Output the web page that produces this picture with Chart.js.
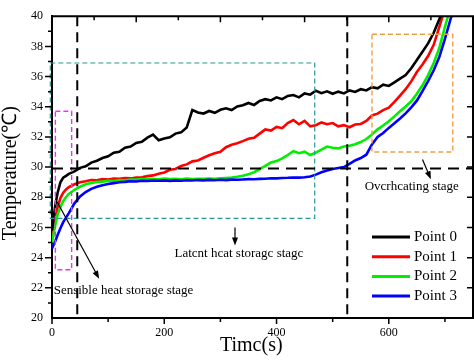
<!DOCTYPE html>
<html>
<head>
<meta charset="utf-8">
<script src="https://cdn.jsdelivr.net/npm/chart.js@4"></script>
<style>
  html, body { margin: 0; padding: 0; background: #fff; }
  #wrap { width: 474px; height: 363px; }
</style>
</head>
<body>
<div id="wrap"><canvas id="myChart" width="474" height="363"></canvas></div>
<script>
const times = [0, 3, 6, 10, 15, 20, 25, 30,
    40, 50, 60, 70, 80, 90, 100, 110, 120, 130, 140, 150, 160, 170, 180, 190,
    200, 210, 220, 230, 240, 250, 260, 270, 280, 290, 300, 310, 320, 330, 340, 350,
    360, 370, 380, 390, 400, 410, 420, 430, 440, 450, 460, 470, 480, 490, 500, 510,
    520, 530, 540, 550, 560, 570, 580, 590, 600, 610, 620, 630, 640, 650, 660, 670,
    680, 690, 700, 710, 720];

const point0 = [25.8, 26.7, 27.5, 28.3, 29.0, 29.3, 29.42, 29.55,
    29.72, 29.95, 30.05, 30.3, 30.42, 30.6, 30.72, 30.95, 31.02, 31.28, 31.36, 31.6, 31.68, 31.95, 32.15, 31.78,
    31.9, 31.98, 32.22, 32.3, 32.62, 33.78, 33.62, 33.55, 33.72, 33.6, 33.8, 33.9, 33.78, 34.02, 34.1, 34.25,
    34.12, 34.38, 34.5, 34.42, 34.62, 34.5, 34.72, 34.78, 34.62, 34.88, 34.8, 35.06, 34.9, 35.02, 34.86, 35.0,
    34.88, 35.08, 34.98, 35.16, 35.08, 35.3, 35.22, 35.46, 35.38, 35.62, 35.86, 36.1, 36.55, 37.1, 37.65, 38.2,
    38.9, 39.8, 40.8, 41.6, 42.4];

const point1 = [25.2, 25.95, 26.65, 27.35, 27.95, 28.3, 28.52, 28.68,
    28.86, 29.0, 29.06, 29.14, 29.12, 29.2, 29.18, 29.24, 29.22, 29.27, 29.25, 29.3, 29.33, 29.4, 29.45, 29.56,
    29.64, 29.82, 29.88, 30.08, 30.18, 30.38, 30.44, 30.62, 30.78, 30.92, 31.02, 31.32, 31.48, 31.58, 31.72, 31.88,
    31.94, 32.22, 32.5, 32.42, 32.66, 32.58, 32.92, 33.12, 32.84, 33.06, 32.7, 32.78, 32.96, 32.84, 32.92, 32.7,
    32.78, 32.64, 32.82, 32.86, 33.06, 33.42, 33.54, 33.78, 33.94, 34.32, 34.74, 35.16, 35.68, 36.3, 36.8, 37.36,
    38.1, 39.3, 40.5, 41.4, 42.2];

const point2 = [25.0, 25.6, 26.2, 26.85, 27.35, 27.75, 28.02, 28.22,
    28.5, 28.7, 28.86, 28.94, 29.02, 29.04, 29.1, 29.08, 29.14, 29.13, 29.18, 29.17, 29.21, 29.2, 29.23, 29.2,
    29.24, 29.21, 29.23, 29.2, 29.24, 29.21, 29.23, 29.22, 29.24, 29.22, 29.25, 29.28, 29.31, 29.36, 29.43, 29.52,
    29.66, 29.86, 30.08, 30.3, 30.4, 30.58, 30.8, 31.06, 30.92, 31.02, 30.8, 30.96, 31.16, 31.36, 31.28, 31.24,
    31.36, 31.42, 31.52, 31.66, 31.86, 32.16, 32.5, 32.76, 33.04, 33.36, 33.7, 34.02, 34.36, 34.86, 35.42, 36.1,
    36.9, 37.9, 39.3, 40.6, 42.0];

const point3 = [24.6, 24.85, 25.1, 25.5, 25.95, 26.35, 26.65, 26.95,
    27.6, 28.05, 28.35, 28.56, 28.7, 28.8, 28.88, 28.94, 29.0, 29.02, 29.06, 29.05, 29.09, 29.08, 29.11, 29.1,
    29.12, 29.09, 29.12, 29.1, 29.13, 29.11, 29.14, 29.12, 29.15, 29.13, 29.16, 29.14, 29.17, 29.16, 29.18, 29.2,
    29.19, 29.22, 29.23, 29.26, 29.25, 29.28, 29.29, 29.31, 29.3, 29.33, 29.38, 29.5, 29.66, 29.78, 29.88, 29.94,
    30.0, 30.22, 30.44, 30.6, 30.82, 31.5, 32.0, 32.26, 32.6, 32.9, 33.22, 33.56, 33.96, 34.4, 35.04, 35.7,
    36.42, 37.3, 38.5, 39.8, 41.0];

const seriesNames = ['Point 0', 'Point 1', 'Point 2', 'Point 3'];
const seriesColors = ['#000000', '#ff0000', '#00ee00', '#0000ff'];
const seriesValues = [point0, point1, point2, point3];
const seriesOrder = [0, 3, 2, 1];

const xTicks = [0, 200, 400, 600];
const yTicks = [20, 22, 24, 26, 28, 30, 32, 34, 36, 38, 40];

const FONT = '"Liberation Serif", "Times New Roman", serif';

function pts(vals) {
    return times.map((t, i) => ({ x: t, y: vals[i] }));
}

const data = {
    datasets: seriesNames.map((name, i) => ({
        label: name,
        data: pts(seriesValues[i]),
        borderColor: seriesColors[i],
        backgroundColor: seriesColors[i],
        borderWidth: 2.6,
        pointRadius: 0,
        tension: 0,
        order: seriesOrder[i]
    }))
};

function dashedRect(ctx, x0, y0, x1, y1, color, width, dash) {
    ctx.save();
    ctx.strokeStyle = color;
    ctx.lineWidth = width;
    ctx.setLineDash(dash);
    ctx.strokeRect(Math.min(x0, x1), Math.min(y0, y1), Math.abs(x1 - x0), Math.abs(y1 - y0));
    ctx.restore();
}

function dashedLine(ctx, x0, y0, x1, y1, color, width, dash) {
    ctx.save();
    ctx.strokeStyle = color;
    ctx.lineWidth = width;
    ctx.setLineDash(dash);
    ctx.beginPath();
    ctx.moveTo(x0, y0);
    ctx.lineTo(x1, y1);
    ctx.stroke();
    ctx.restore();
}

function arrow(ctx, x0, y0, x1, y1) {
    const a = Math.atan2(y1 - y0, x1 - x0);
    const len = 8, w = 3;
    ctx.save();
    ctx.strokeStyle = '#000';
    ctx.fillStyle = '#000';
    ctx.lineWidth = 1.2;
    ctx.beginPath();
    ctx.moveTo(x0, y0);
    ctx.lineTo(x1 - Math.cos(a) * len * 0.6, y1 - Math.sin(a) * len * 0.6);
    ctx.stroke();
    ctx.beginPath();
    ctx.moveTo(x1, y1);
    ctx.lineTo(x1 - Math.cos(a) * len - Math.sin(a) * w, y1 - Math.sin(a) * len + Math.cos(a) * w);
    ctx.lineTo(x1 - Math.cos(a) * len + Math.sin(a) * w, y1 - Math.sin(a) * len - Math.cos(a) * w);
    ctx.closePath();
    ctx.fill();
    ctx.restore();
}

const decor = {
    id: 'decor',
    afterDatasetsDraw(chart) {
        const ctx = chart.ctx;
        const xs = chart.scales.x, ys = chart.scales.y;
        const area = chart.chartArea;
        const px = v => xs.getPixelForValue(v);
        const py = v => ys.getPixelForValue(v);

        // stage boxes
        dashedRect(ctx, px(-3), py(36.9), px(468), py(26.6), '#2a9a9a', 1.2, [5, 3]);
        dashedRect(ctx, px(6), py(33.7), px(35), py(23.2), '#ee33ee', 1.4, [5, 3]);
        dashedRect(ctx, px(570), py(38.8), px(714), py(31.0), '#f0a040', 1.4, [5, 3]);

        // black dashed guides
        dashedLine(ctx, px(45), area.top, px(45), area.bottom, '#000', 2, [10, 6]);
        dashedLine(ctx, px(526), area.top, px(526), area.bottom, '#000', 2, [10, 6]);
        dashedLine(ctx, area.left, py(29.9), area.right, py(29.9), '#000', 2, [11, 7]);

        // arrows
        arrow(ctx, px(9), py(27.7), px(84), py(22.6));
        arrow(ctx, px(326), py(26.0), px(326), py(24.8));
        arrow(ctx, px(660), py(30.5), px(675), py(29.2));

        // stage labels
        ctx.save();
        ctx.fillStyle = '#000';
        ctx.font = '13px ' + FONT;
        ctx.textBaseline = 'middle';
        ctx.textAlign = 'left';
        ctx.fillText('Sensible heat storage stage', px(3), py(21.8));
        ctx.fillText('Ovcrhcating stage', px(557), py(28.7));
        ctx.textAlign = 'center';
        ctx.fillText('Latcnt hcat storagc stagc', px(333), py(24.3));
        ctx.restore();

        // frame and tick marks
        ctx.save();
        ctx.strokeStyle = '#000';
        ctx.lineWidth = 2;
        ctx.beginPath();
        ctx.moveTo(area.left, area.top);
        ctx.lineTo(area.right, area.top);
        ctx.lineTo(area.right, area.bottom);
        ctx.stroke();
        ctx.lineWidth = 1.5;
        ctx.beginPath();
        for (let v = 0; v <= 700; v += 100) {
            const l = v % 200 === 0 ? 6 : 4;
            ctx.moveTo(px(v), area.bottom);
            ctx.lineTo(px(v), area.bottom + l);
        }
        for (let v = 75; v < 750; v += 75) {
            const l = v % 150 === 0 ? 6 : 4;
            ctx.moveTo(px(v), area.top);
            ctx.lineTo(px(v), area.top + l);
        }
        for (let v = 21; v < 40; v += 1) {
            const l = v % 2 === 0 ? 7 : 4;
            ctx.moveTo(area.left, py(v));
            ctx.lineTo(area.left - l, py(v));
        }
        for (let v = 22; v < 40; v += 2) {
            ctx.moveTo(area.right, py(v));
            ctx.lineTo(area.right - 6, py(v));
        }
        ctx.stroke();
        ctx.restore();

        // legend
        ctx.save();
        ctx.font = '15px ' + FONT;
        ctx.textBaseline = 'middle';
        ctx.textAlign = 'left';
        seriesNames.forEach((name, i) => {
            const y = area.bottom - 81 + i * 19.7;
            ctx.strokeStyle = seriesColors[i];
            ctx.lineWidth = 3;
            ctx.beginPath();
            ctx.moveTo(area.right - 101, y);
            ctx.lineTo(area.right - 63, y);
            ctx.stroke();
            ctx.fillStyle = '#000';
            ctx.fillText(name, area.right - 59, y);
        });
        ctx.restore();

        // axis titles
        ctx.save();
        ctx.fillStyle = '#000';
        ctx.font = '20px ' + FONT;
        ctx.textAlign = 'center';
        ctx.textBaseline = 'middle';
        ctx.fillText('Timc(s)', px(355), area.bottom + 28);
        ctx.translate(11, (area.top + area.bottom) / 2 + 6);
        ctx.rotate(-Math.PI / 2);
        ctx.fillText('Temperature(℃)', 0, 0);
        ctx.restore();
    }
};

const config = {
    type: 'line',
    data: data,
    options: {
        responsive: false,
        animation: false,
        layout: { padding: { top: 5, right: 1, left: 0, bottom: 0 } },
        plugins: {
            legend: { display: false },
            tooltip: { enabled: false }
        },
        scales: {
            x: {
                type: 'linear',
                min: 0,
                max: 750,
                grid: { display: false, drawTicks: false },
                border: { display: true, color: '#000', width: 2 },
                ticks: {
                    stepSize: 200,
                    includeBounds: false,
                    padding: 8,
                    color: '#000',
                    font: { family: FONT, size: 12 },
                    callback: v => xTicks.includes(v) ? String(v) : ''
                },
                afterFit: s => { s.height = 45; }
            },
            y: {
                type: 'linear',
                min: 20,
                max: 40,
                grid: { display: false, drawTicks: false },
                border: { display: true, color: '#000', width: 2 },
                ticks: {
                    stepSize: 2,
                    padding: 9,
                    color: '#000',
                    font: { family: FONT, size: 12 },
                    callback: v => yTicks.includes(v) ? String(v) : ''
                },
                afterFit: s => { s.width = 52; }
            }
        }
    },
    plugins: [decor]
};

const myChart = new Chart(document.getElementById('myChart'), config);
</script>
</body>
</html>
